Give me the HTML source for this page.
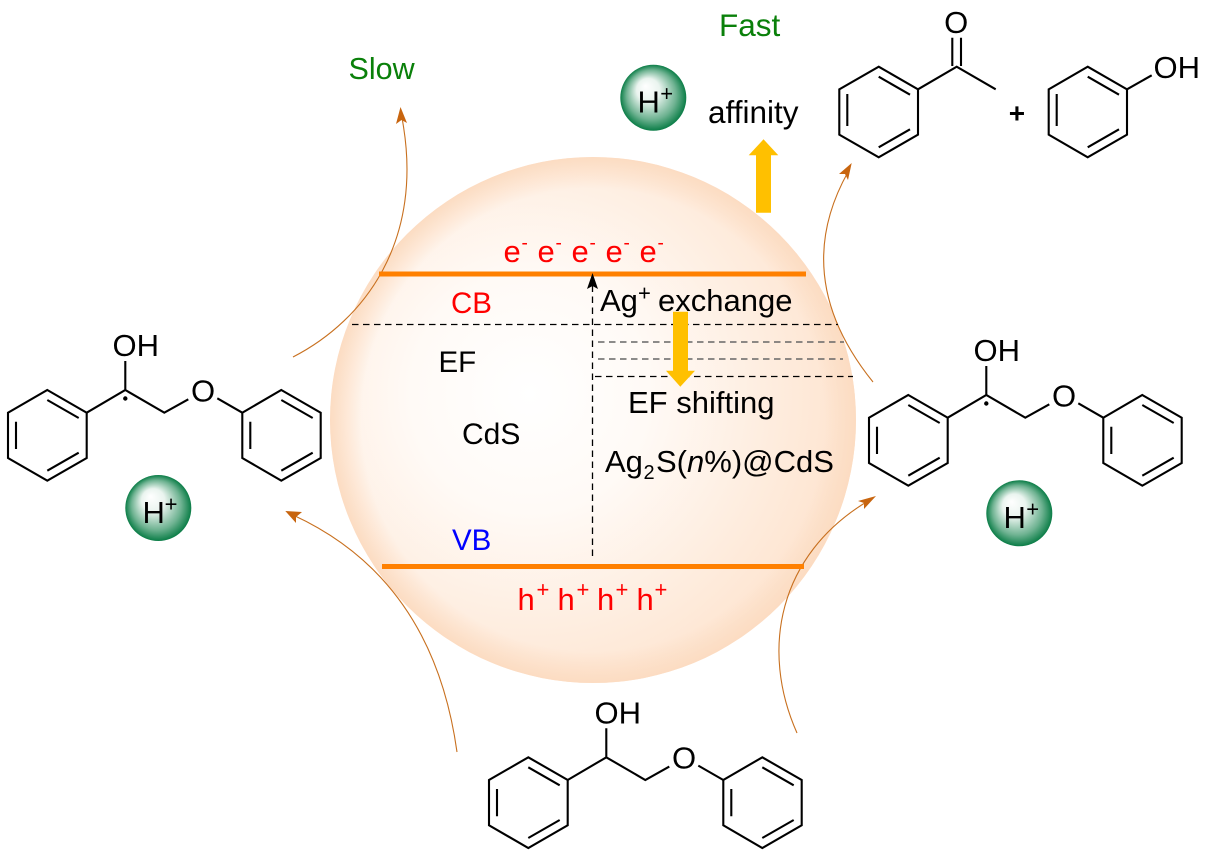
<!DOCTYPE html>
<html>
<head>
<meta charset="utf-8">
<style>
html,body{margin:0;padding:0;background:#fff;}
svg{display:block;}
text{font-family:"Liberation Sans",sans-serif;font-size:31px;}
.l{fill:none;stroke:#000;stroke-width:2.1;stroke-linejoin:miter;stroke-linecap:butt;}
.c{fill:none;stroke:#c8701f;stroke-width:1.1;}
.h{fill:#c8650f;}
.d{stroke:#000;stroke-width:1.3;stroke-dasharray:6.5 4.5;fill:none;}
.g{stroke:#666;stroke-width:1.6;stroke-dasharray:6.5 4.5;fill:none;}
.sm{font-size:19px;}
.p{font-size:22px;}
</style>
</head>
<body>
<svg width="1210" height="857" viewBox="0 0 1210 857" xmlns="http://www.w3.org/2000/svg">
<defs>
<radialGradient id="sphere" cx="0.38" cy="0.45" r="0.75">
<stop offset="0" stop-color="#ffffff"/>
<stop offset="0.3" stop-color="#fffaf6"/>
<stop offset="0.7" stop-color="#fee9d8"/>
<stop offset="1" stop-color="#fcdcc2"/>
</radialGradient>
<radialGradient id="rim" cx="0.5" cy="0.5" r="0.5">
<stop offset="0.88" stop-color="#fcdcc2" stop-opacity="0"/>
<stop offset="1" stop-color="#fcdcc2" stop-opacity="1"/>
</radialGradient>
<radialGradient id="ball" cx="0.5" cy="0.5" r="0.5" fx="0.38" fy="0.32">
<stop offset="0" stop-color="#ffffff"/>
<stop offset="0.35" stop-color="#eaf4ef"/>
<stop offset="0.75" stop-color="#6fb392"/>
<stop offset="1" stop-color="#0b7d47"/>
</radialGradient>
<g id="mol">
<path class="l" d="M47.3,390 L86.7,412.7 V458 L47.3,480.7 L8,458 V412.7 Z"/>
<path class="l" d="M47.3,400 L78.7,418 M78.7,452.7 L47.3,470.7 M16,449 V421.7"/>
<path class="l" d="M86.7,412.7 L125.3,390 L164.3,412.7 L188.3,399.3 M125.3,390 V361 M217.3,398.3 L242.3,412.7"/>
<path class="l" d="M281.3,390 L320.7,412.7 V458 L281.3,480.7 L242.3,458 V412.7 Z"/>
<path class="l" d="M281.3,400 L312.7,418 M312.7,452.7 L281.3,470.7 M250.3,449 V421.7"/>
</g>
</defs>

<circle cx="593" cy="420" r="263" fill="url(#sphere)"/>
<circle cx="593" cy="420" r="263" fill="url(#rim)"/>

<!-- curved arrows -->
<path class="c" d="M293,357 C365,320 425,240 402,118"/>
<polygon class="h" points="400.500,107 407,123 401.500,120 396,124"/>
<path class="c" d="M873,382 C815,310 810,240 848,172"/>
<polygon class="h" points="851.700,163 848,180 845,174 839,174"/>
<path class="c" d="M457,752 C440,630 380,555 293,515"/>
<polygon class="h" points="285.300,511 302,512 296,517 296,523"/>
<path class="c" d="M797,733 C760,650 778,555 868,501"/>
<polygon class="h" points="876,496 864,509 864,503 858,501"/>

<!-- bands -->
<rect x="379" y="271.500" width="427" height="5" fill="#ff8000"/>
<rect x="382" y="564" width="422" height="5" fill="#ff8000"/>

<!-- dashed -->
<path class="d" d="M352,324.500 H838"/>
<path class="g" d="M598,342 H844"/>
<path class="g" d="M598,359 H843"/>
<path class="d" d="M595,376.500 H853"/>
<path class="d" d="M592.500,556 V285"/>
<polygon points="592.500,273 598,289 592.500,286 587,289" fill="#000"/>

<!-- yellow arrows -->
<polygon fill="#ffc000" points="756,212.700 771,212.700 771,155.300 778.300,155.300 763.500,139.300 748.700,155.300 756,155.300"/>
<polygon fill="#ffc000" points="673,311.700 688,311.700 688,370.700 695,370.700 680.300,386.700 666,370.700 673,370.700"/>

<!-- labels in sphere -->
<text x="503.500" y="262" fill="#f00">e</text><text x="521.500" y="249" fill="#f00" class="sm">-</text>
<text x="537.500" y="262" fill="#f00">e</text><text x="555.500" y="249" fill="#f00" class="sm">-</text>
<text x="571.500" y="262" fill="#f00">e</text><text x="589.500" y="249" fill="#f00" class="sm">-</text>
<text x="605.500" y="262" fill="#f00">e</text><text x="623.500" y="249" fill="#f00" class="sm">-</text>
<text x="639.500" y="262" fill="#f00">e</text><text x="657.500" y="249" fill="#f00" class="sm">-</text>

<text x="451" y="313" fill="#f00" style="font-size:29.500px">CB</text>
<text x="438.500" y="372" style="font-size:29.500px">EF</text>
<text x="462" y="444" style="font-size:30px">CdS</text>
<text x="452" y="550" fill="#00f" style="font-size:29.500px">VB</text>

<text x="600" y="311">Ag</text><text x="638" y="300.500" class="p">+</text>
<text x="658" y="311">exchange</text>
<text x="628" y="413">EF shifting</text>
<text x="605" y="472">Ag</text><text x="643.500" y="479" style="font-size:20px">2</text><text x="656" y="472">S(<tspan font-style="italic">n</tspan>%)@CdS</text>

<text x="517.500" y="610" fill="#f00">h</text><text x="536.500" y="597" fill="#f00" class="p">+</text>
<text x="557.500" y="610" fill="#f00">h</text><text x="576.500" y="597" fill="#f00" class="p">+</text>
<text x="597" y="610" fill="#f00">h</text><text x="615.500" y="597" fill="#f00" class="p">+</text>
<text x="636.500" y="610" fill="#f00">h</text><text x="654.500" y="597" fill="#f00" class="p">+</text>

<text x="348.500" y="79" fill="#0a800a" style="font-size:30.500px">Slow</text>
<text x="719" y="36" fill="#0a800a" style="font-size:31.500px">Fast</text>
<text x="708" y="123" style="font-size:31.500px">affinity</text>

<!-- H+ balls -->
<circle cx="653.300" cy="97.700" r="33" fill="url(#ball)"/>
<text x="637.500" y="112.300">H</text><text x="660.300" y="100.800" class="p">+</text>
<circle cx="158.300" cy="508" r="33" fill="url(#ball)"/>
<text x="142.500" y="523">H</text><text x="164.600" y="511.500" class="p">+</text>
<circle cx="1019.300" cy="513.300" r="33" fill="url(#ball)"/>
<text x="1003.500" y="528">H</text><text x="1026.300" y="516.500" class="p">+</text>

<!-- molecules -->
<use href="#mol"/>
<text x="112.500" y="356">OH</text>
<text x="203" y="401.500" text-anchor="middle">O</text>
<circle cx="125.300" cy="398.500" r="2.200" fill="#000"/>

<use href="#mol" transform="translate(861,5)"/>
<text x="973.500" y="361">OH</text>
<text x="1064" y="406.500" text-anchor="middle">O</text>
<circle cx="986.300" cy="403.500" r="2.200" fill="#000"/>

<use href="#mol" transform="translate(481,367.300)"/>
<text x="594.500" y="723.500">OH</text>
<text x="684" y="768.500" text-anchor="middle">O</text>

<!-- products -->
<path class="l" d="M878.700,66.700 L918,89.300 V134.700 L878.700,157.300 L839.300,134.700 V89.300 Z"/>
<path class="l" d="M878.700,76.700 L910,94.700 M910,129.300 L878.700,147.300 M847.300,126 V94"/>
<path class="l" d="M918,89.300 L956.700,66.700 L995.700,89.300 M952.300,66 V37.700 M961,66 V37.700"/>
<text x="956.200" y="33" text-anchor="middle">O</text>
<text x="1008.800" y="122.500" style="font-weight:bold;font-size:28px">+</text>
<path class="l" d="M1087.700,66.700 L1127,89.300 V134.700 L1087.700,157.300 L1048.700,134.700 V89.300 Z"/>
<path class="l" d="M1087.700,76.700 L1119,94.700 M1119,129.300 L1087.700,147.300 M1056.700,126 V94"/>
<path class="l" d="M1127,89.300 L1151.700,75.300"/>
<text x="1153.500" y="78">OH</text>
</svg>
</body>
</html>
